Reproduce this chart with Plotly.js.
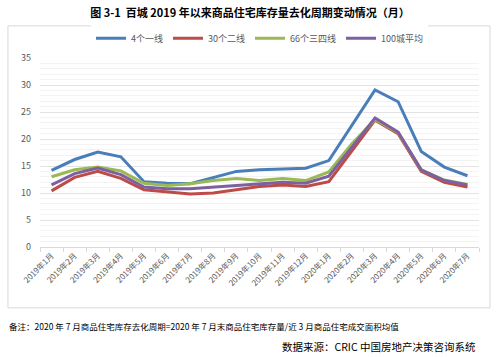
<!DOCTYPE html>
<html>
<head>
<meta charset="utf-8">
<script src="https://cdn.plot.ly/plotly-3.0.1.min.js"></script>
<style>html,body{margin:0;padding:0;background:#fff;}#chart{width:500px;height:357px;}</style>
</head>
<body>
<div id="chart"></div>
<script>
const months = ["2019年1月","2019年2月","2019年3月","2019年4月","2019年5月","2019年6月","2019年7月","2019年8月","2019年9月","2019年10月","2019年11月","2019年12月","2020年1月","2020年2月","2020年3月","2020年4月","2020年5月","2020年6月","2020年7月"];
const tier1 = [14.2,16.2,17.6,16.7,12.1,11.8,11.7,12.9,14.0,14.3,14.4,14.6,16.0,22.6,29.1,26.9,17.7,14.8,13.2];
const tier2 = [10.4,12.9,14.0,12.7,10.6,10.2,9.8,10.0,10.6,11.2,11.5,11.2,12.1,17.9,23.5,21.0,14.0,12.0,11.1];
const tier34 = [13.0,14.3,14.8,14.1,11.8,11.4,11.7,12.3,12.7,12.3,12.7,12.3,13.9,19.1,23.6,21.2,14.3,12.4,11.6];
const avg100 = [11.5,13.6,14.6,13.4,11.1,10.8,10.8,11.1,11.5,11.7,12.0,11.8,13.1,18.5,23.9,21.3,14.3,12.3,11.5];
const names = ["4个一线","30个二线","66个三四线","100城平均"];
const colors = ["#4A7EBB","#BE4B48","#98B954","#7D60A0"];
const series = [tier1, tier2, tier34, avg100];

const traces = series.map((s, i) => ({
  x: months, y: s, name: names[i], type: "scatter", mode: "lines",
  line: {color: colors[i], width: 3}
}));

const font = "'Noto Sans CJK SC', 'Noto Sans', sans-serif";
const layout = {
  width: 500, height: 357,
  margin: {l: 40, r: 21, t: 58, b: 110},
  paper_bgcolor: "#fff", plot_bgcolor: "#fff",
  font: {family: font, color: "#595959", size: 9},
  title: {text: "<b>图 3-1  百城 2019 年以来商品住宅库存量去化周期变动情况（月）</b>", x: 0.5, xanchor: "center", y: 0.962, yanchor: "middle", font: {size: 11, color: "#000", family: font}},
  showlegend: true,
  legend: {orientation: "h", x: 0.5, xanchor: "center", y: 1.105, yanchor: "middle", font: {size: 9, color: "#595959"}, tracegroupgap: 0},
  xaxis: {
    type: "category", tickangle: -45, tickfont: {size: 8, color: "#595959"},
    showgrid: false, showline: true, linecolor: "#d9d9d9", linewidth: 1,
    ticks: "outside", tickson: "boundaries", ticklen: 4, tickcolor: "#d9d9d9",
    range: [-0.5, 18.5], fixedrange: true
  },
  yaxis: {
    range: [0, 35], dtick: 5, showgrid: true, gridcolor: "#e3e3e3", gridwidth: 1,
    zeroline: false, showline: false, tickfont: {size: 9, color: "#595959"},
    minor: {dtick: 1, showgrid: true, gridcolor: "#f3f3f3", gridwidth: 1},
    ticklabelstandoff: 8
  },
  shapes: [
    {type: "rect", xref: "paper", yref: "paper", x0: -0.073, x1: 1.025, y0: -0.322, y1: 1.17, line: {color: "#d9d9d9", width: 1}, fillcolor: "rgba(0,0,0,0)"}
  ],
  annotations: [
    {text: "备注：2020 年 7 月商品住宅库存去化周期=2020 年 7 月末商品住宅库存量/近 3 月商品住宅成交面积均值", xref: "paper", yref: "paper", x: -0.075, xanchor: "left", y: -0.42, yanchor: "middle", showarrow: false, font: {size: 8.5, color: "#000", family: font}},
    {text: "数据来源：CRIC 中国房地产决策咨询系统", xref: "paper", yref: "paper", x: 0.997, xanchor: "right", y: -0.525, yanchor: "middle", showarrow: false, font: {size: 10.5, color: "#000", family: font}}
  ]
};
Plotly.newPlot("chart", traces, layout, {displayModeBar: false, staticPlot: true});
</script>
</body>
</html>
